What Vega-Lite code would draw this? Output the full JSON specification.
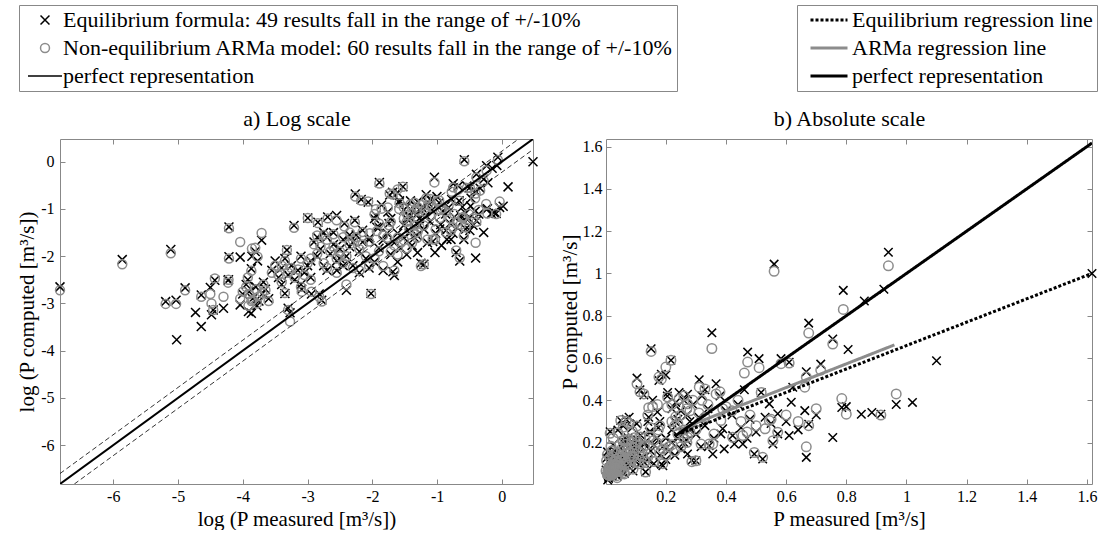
{
  "$schema": "https://vega.github.io/schema/vega-lite/v6.json",
  "autosize": {"type": "pad"},
  "padding": {"left": 16, "top": 4, "right": 2, "bottom": 0},
  "config": {
    "font": "Liberation Serif",
    "view": {"stroke": "#888", "strokeWidth": 1},
    "axis": {"grid": false, "domain": false, "tickColor": "#888", "labelColor": "#000", "titleColor": "#000", "labelFontSize": 16, "titleFontSize": 21, "titleFontWeight": "normal", "tickSize": -5, "labelPadding": 12, "labelFont": "Liberation Serif", "titleFont": "Liberation Serif"},
    "legend": {"labelFont": "Liberation Serif", "labelFontSize": 22, "labelColor": "#000", "offset": 0}
  },
  "datasets": {
    "pts": [
      {"m":0.00109,"e":0.0707,"a":0.0659},{"m":0.00285,"e":0.126,"a":0.114},{"m":0.00603,"e":0.156,"a":0.144},
      {"m":0.00557,"e":0.0518,"a":0.0493},{"m":0.00654,"e":0.0534,"a":0.0493},{"m":0.0066,"e":0.0231,"a":null},
      {"m":0.00752,"e":0.0693,"a":0.0659},{"m":0.00883,"e":0.0412,"a":null},{"m":0.00965,"e":0.0305,"a":null},
      {"m":0.00965,"e":0.0596,"a":0.0573},{"m":0.0119,"e":0.0813,"a":0.0846},{"m":0.0113,"e":0.0392,"a":0.0498},
      {"m":0.0116,"e":0.0433,"a":0.0433},{"m":0.0111,"e":0.0699,"a":0.0608},{"m":0.0147,"e":0.0821,"a":0.0821},
      {"m":0.0148,"e":0.2516,"a":0.2441},{"m":0.0148,"e":0.134,"a":0.1287},{"m":0.0136,"e":0.045,"a":0.0573},
      {"m":0.0176,"e":0.1327,"a":0.1827},{"m":0.0245,"e":0.19,"a":0.221},{"m":0.0222,"e":0.1496,"a":0.162},
      {"m":0.0211,"e":0.135,"a":0.159},{"m":0.023,"e":0.1225,"a":0.134},{"m":0.0209,"e":0.104,"a":0.0993},
      {"m":0.0146,"e":0.0813,"a":0.0773},{"m":0.0176,"e":0.0483,"a":0.055},{"m":0.0209,"e":0.0404,"a":0.0523},
      {"m":0.02,"e":0.042,"a":0.0474},{"m":0.0193,"e":0.0743,"a":0.0707},{"m":0.0202,"e":0.0639,"a":0.0608},
      {"m":0.0213,"e":0.055,"a":0.0539},{"m":0.0224,"e":0.0707,"a":0.0672},{"m":0.0235,"e":0.0523,"a":0.0578},
      {"m":0.0247,"e":0.0608,"a":0.062},{"m":0.026,"e":0.0672,"a":0.0659},{"m":0.0273,"e":0.055,"a":0.0523},
      {"m":0.0228,"e":0.0474,"a":0.0498},{"m":0.0252,"e":0.0781,"a":0.0743},{"m":0.0183,"e":0.0608,"a":0.0639},
      {"m":0.0198,"e":0.0821,"a":0.0863},{"m":0.0362,"e":0.154,"a":0.154},{"m":0.0404,"e":0.259,"a":0.2466},
      {"m":0.0351,"e":0.0614,"a":0.062},{"m":0.0369,"e":0.045,"a":0.0433},{"m":0.038,"e":0.0408,"a":0.034},
      {"m":0.0287,"e":0.1003,"a":0.0954},{"m":0.0302,"e":0.1225,"a":0.1108},{"m":0.0318,"e":0.0863,"a":0.0907},
      {"m":0.0334,"e":0.1054,"a":0.1108},{"m":0.0351,"e":0.1287,"a":0.1225},{"m":0.0369,"e":0.0907,"a":0.0954},
      {"m":0.0388,"e":0.1108,"a":0.1054},{"m":0.0408,"e":0.0821,"a":0.0863},{"m":0.0429,"e":0.1003,"a":0.1023},
      {"m":0.045,"e":0.1353,"a":0.1287},{"m":0.0474,"e":0.0954,"a":0.0907},{"m":0.0498,"e":0.1108,"a":0.1165},
      {"m":0.0523,"e":0.0863,"a":0.0821},{"m":0.0334,"e":0.0743,"a":0.0781},{"m":0.045,"e":0.0743,"a":0.0707},
      {"m":0.0584,"e":0.278,"a":0.2725},{"m":0.0679,"e":0.31,"a":0.3012},{"m":0.088,"e":0.27,"a":0.254},
      {"m":0.104,"e":0.505,"a":0.478},{"m":0.114,"e":0.45,"a":0.44},{"m":0.1033,"e":0.289,"a":0.278},
      {"m":0.0907,"e":0.0659,"a":0.0743},{"m":0.062,"e":0.0534,"a":0.0518},{"m":0.0455,"e":0.0672,"a":0.0639},
      {"m":0.0529,"e":0.0608,"a":0.0639},{"m":0.0596,"e":0.0608,"a":0.0573},{"m":0.055,"e":0.1827,"a":0.1738},
      {"m":0.0578,"e":0.1353,"a":0.1423},{"m":0.0608,"e":0.1572,"a":0.1653},{"m":0.0639,"e":0.1108,"a":0.1165},
      {"m":0.0672,"e":0.2019,"a":0.192},{"m":0.0707,"e":0.1423,"a":0.1496},{"m":0.0743,"e":0.1738,"a":0.1653},
      {"m":0.0781,"e":0.1225,"a":0.1287},{"m":0.0821,"e":0.1572,"a":0.1496},{"m":0.0863,"e":0.192,"a":0.2019},
      {"m":0.0907,"e":0.1353,"a":0.1353},{"m":0.0954,"e":0.1653,"a":0.1738},{"m":0.1003,"e":0.1108,"a":0.1054},
      {"m":0.1054,"e":0.2122,"a":0.2019},{"m":0.1108,"e":0.1496,"a":0.1572},{"m":0.1165,"e":0.1827,"a":0.1738},
      {"m":0.1225,"e":0.1287,"a":0.1353},{"m":0.0781,"e":0.1003,"a":0.0954},{"m":0.0639,"e":0.2231,"a":0.2122},
      {"m":0.0954,"e":0.2122,"a":0.2231},{"m":0.1287,"e":0.1054,"a":0.1108},{"m":0.151,"e":0.644,"a":0.631},
      {"m":0.2865,"e":0.1165,"a":0.1097},{"m":0.186,"e":0.0973,"a":null},{"m":0.1327,"e":0.0614,"a":0.0608},
      {"m":0.0578,"e":0.2019,"a":0.21},{"m":0.0672,"e":0.1003,"a":0.106},{"m":0.0743,"e":0.2231,"a":0.215},
      {"m":0.0863,"e":0.1108,"a":0.117},{"m":0.1003,"e":0.1827,"a":0.19},{"m":0.1108,"e":0.0954,"a":0.1},
      {"m":0.1287,"e":0.192,"a":0.185},{"m":0.0821,"e":0.1287,"a":0.135},{"m":0.1165,"e":0.2346,"a":0.226},
      {"m":0.0523,"e":0.1225,"a":0.129},
      {"m":0.14,"e":0.12,"a":0.13},{"m":0.15,"e":0.16,"a":0.15},{"m":0.16,"e":0.1,"a":0.11},
      {"m":0.17,"e":0.22,"a":0.2},{"m":0.18,"e":0.14,"a":0.15},{"m":0.19,"e":0.18,"a":0.17},
      {"m":0.2,"e":0.12,"a":0.14},{"m":0.21,"e":0.16,"a":0.18},{"m":0.22,"e":0.2,"a":0.19},
      {"m":0.23,"e":0.14,"a":0.16},{"m":0.24,"e":0.22,"a":0.24},{"m":0.25,"e":0.17,"a":0.18},
      {"m":0.26,"e":0.25,"a":0.26},{"m":0.27,"e":0.21,"a":0.2},{"m":0.28,"e":0.26,"a":0.25},
      {"m":0.13,"e":0.2,"a":0.22},{"m":0.145,"e":0.25,"a":0.23},{"m":0.175,"e":0.27,"a":0.26},
      {"m":0.19,"e":0.09,"a":0.1},{"m":0.23,"e":0.3,"a":0.28},
      {"m":0.22,"e":0.36,"a":0.38},{"m":0.26,"e":0.4,"a":0.42},{"m":0.29,"e":0.38,"a":0.4},
      {"m":0.32,"e":0.42,"a":0.4},{"m":0.34,"e":0.36,"a":0.38},{"m":0.38,"e":0.42,"a":0.44},
      {"m":0.27,"e":0.33,"a":0.36},{"m":0.31,"e":0.32,"a":0.34},
      {"m":0.45,"e":0.27,"a":0.3},{"m":0.48,"e":0.31,"a":0.33},{"m":0.5,"e":0.25,"a":0.28},
      {"m":0.55,"e":0.29,"a":0.31},{"m":0.6,"e":0.3,"a":0.33},{"m":0.64,"e":0.26,"a":0.3},
      {"m":0.7,"e":0.33,"a":0.36},{"m":0.47,"e":0.22,"a":0.25},
      {"m":0.353,"e":0.719,"a":0.645},{"m":0.56,"e":1.044,"a":1.01},{"m":1.617,"e":1.0,"a":null},
      {"m":1.1,"e":0.587,"a":null},{"m":0.94,"e":1.1,"a":1.036},{"m":0.79,"e":0.92,"a":0.83},
      {"m":0.86,"e":0.87,"a":null},{"m":0.925,"e":0.925,"a":null},{"m":0.915,"e":0.334,"a":0.33},
      {"m":0.675,"e":0.765,"a":0.718},{"m":0.755,"e":0.69,"a":0.666},{"m":0.806,"e":0.64,"a":null},
      {"m":0.785,"e":0.366,"a":0.408},{"m":0.8,"e":0.37,"a":0.334},{"m":0.966,"e":0.38,"a":0.43},
      {"m":1.02,"e":0.39,"a":null},{"m":0.85,"e":0.334,"a":null},{"m":0.885,"e":0.342,"a":null},
      {"m":0.755,"e":0.224,"a":null},{"m":0.675,"e":0.287,"a":0.28},{"m":0.667,"e":0.13,"a":0.18},
      {"m":0.667,"e":0.535,"a":0.51},{"m":0.662,"e":0.351,"a":0.462},{"m":0.622,"e":0.462,"a":null},
      {"m":0.61,"e":0.233,"a":null},{"m":0.617,"e":0.391,"a":null},{"m":0.583,"e":0.597,"a":0.573},
      {"m":0.61,"e":0.58,"a":0.576},{"m":0.472,"e":0.628,"a":0.581},{"m":0.51,"e":0.597,"a":0.554},
      {"m":0.461,"e":0.45,"a":0.529},{"m":0.715,"e":0.571,"a":0.543},{"m":0.517,"e":0.437,"a":0.437},
      {"m":0.389,"e":0.265,"a":0.36},{"m":0.383,"e":0.241,"a":0.304},{"m":0.422,"e":0.233,"a":0.225},
      {"m":0.428,"e":0.193,"a":null},{"m":0.456,"e":0.193,"a":0.233},{"m":0.394,"e":0.17,"a":null},
      {"m":0.572,"e":0.241,"a":0.249},{"m":0.556,"e":0.193,"a":0.209},{"m":0.494,"e":0.146,"a":0.153},
      {"m":0.522,"e":0.122,"a":0.13},{"m":0.53,"e":0.32,"a":0.265},{"m":0.544,"e":0.383,"a":0.304},
      {"m":0.572,"e":0.336,"a":null},{"m":0.367,"e":0.478,"a":0.43},{"m":0.311,"e":0.497,"a":0.462},
      {"m":0.33,"e":0.45,"a":0.454},{"m":0.206,"e":0.437,"a":0.415},{"m":0.244,"e":0.437,"a":0.407},
      {"m":0.272,"e":0.429,"a":0.383},{"m":0.217,"e":0.589,"a":0.589},{"m":0.2,"e":0.52,"a":0.557},
      {"m":0.177,"e":0.494,"a":0.51},{"m":0.185,"e":0.523,"a":0.5},{"m":0.3,"e":0.114,"a":0.114},
      {"m":0.272,"e":0.146,"a":0.225},{"m":0.344,"e":0.185,"a":0.193},{"m":0.356,"e":0.146,"a":0.193},
      {"m":0.317,"e":0.18,"a":0.193},{"m":0.127,"e":0.425,"a":0.43},{"m":0.156,"e":0.4,"a":0.37},
      {"m":0.143,"e":0.32,"a":0.365},{"m":0.172,"e":0.345,"a":0.38},{"m":0.205,"e":0.42,"a":0.367},
      {"m":0.233,"e":0.39,"a":0.322},{"m":0.05,"e":0.304,"a":0.304},{"m":0.078,"e":0.32,"a":0.29},
      {"m":0.15,"e":0.25,"a":0.27},{"m":0.18,"e":0.3,"a":0.28},{"m":0.22,"e":0.26,"a":0.3},
      {"m":0.25,"e":0.35,"a":0.33},{"m":0.28,"e":0.3,"a":0.35},{"m":0.3,"e":0.24,"a":0.26},
      {"m":0.33,"e":0.28,"a":0.32},{"m":0.26,"e":0.2,"a":0.22},{"m":0.2,"e":0.22,"a":0.2},
      {"m":0.16,"e":0.19,"a":0.21},{"m":0.14,"e":0.3,"a":0.33},{"m":0.24,"e":0.31,"a":0.29},
      {"m":0.36,"e":0.22,"a":0.24},{"m":0.4,"e":0.35,"a":0.37},{"m":0.44,"e":0.38,"a":0.4},
      {"m":0.42,"e":0.33,"a":0.35}
    ],
    "refL": [
      {"m":0.00109,"c":0.00109,"k":"p"},{"m":1.617,"c":1.617,"k":"p"},
      {"m":0.00109,"c":0.00136,"k":"u"},{"m":1.294,"c":1.617,"k":"u"},
      {"m":0.00136,"c":0.00109,"k":"l"},{"m":1.617,"c":1.294,"k":"l"}
    ],
    "refR": [
      {"m":0.25,"c":0.244,"k":"d"},{"m":1.617,"c":1.0,"k":"d"},
      {"m":0.25,"c":0.264,"k":"g"},{"m":0.96,"c":0.662,"k":"g"},
      {"m":0.23,"c":0.23,"k":"p"},{"m":1.617,"c":1.617,"k":"p"}
    ]
  },
  "hconcat": [
    {
      "width": 473,
      "height": 345,
      "resolve": {"axis": {"x": "independent", "y": "independent"}},
      "layer": [
        {
          "data": {"name": "pts"},
          "transform": [{"fold": ["e", "a"], "as": ["key", "val"]}],
          "mark": {"type": "point", "filled": false, "opacity": 1, "strokeWidth": 1.5, "size": 80},
          "encoding": {
            "x": {"field": "m", "type": "quantitative", "scale": {"type": "log", "domain": [0.00109, 1.617], "nice": false},
                  "axis": {"orient": "bottom", "values": [0.00247875, 0.00673795, 0.0183156, 0.0497871, 0.135335, 0.367879, 1], "labelExpr": "'' + round(log(datum.value))", "labelPadding": 9, "title": "log (P measured [m³/s])", "titlePadding": 4}},
            "y": {"field": "val", "type": "quantitative", "scale": {"type": "log", "domain": [0.00109, 1.617], "nice": false},
                  "axis": {"orient": "left", "values": [0.00247875, 0.00673795, 0.0183156, 0.0497871, 0.135335, 0.367879, 1], "labelExpr": "'' + round(log(datum.value))", "labelPadding": 11, "title": "log (P computed [m³/s])", "titlePadding": 3}},
            "color": {"field": "key", "type": "nominal", "scale": {"domain": ["e", "a", "p"], "range": ["#000000", "#8c8c8c", "#000000"]},
                      "legend": {"orient": "none", "legendX": -41, "legendY": -134, "title": null, "strokeColor": "#888", "fillColor": "#fff", "padding": 4, "symbolSize": 80, "symbolStrokeWidth": 1.5, "symbolOffset": 11, "labelOffset": 7, "rowPadding": 6, "labelLimit": 700,
                                 "labelExpr": "datum.value == 'e' ? 'Equilibrium formula: 49 results fall in the range of +/-10%' : datum.value == 'a' ? 'Non-equilibrium ARMa model: 60 results fall in the range of +/-10%' : 'perfect representation'"}},
            "shape": {"field": "key", "type": "nominal", "scale": {"domain": ["e", "a", "p"], "range": ["M-1,-1L1,1M1,-1L-1,1", "circle", "M-3.8,0H3.8"]},
                      "legend": {"orient": "none", "legendX": -41, "legendY": -134, "title": null, "strokeColor": "#888", "fillColor": "#fff", "padding": 4, "symbolSize": 80, "symbolStrokeWidth": 1.5, "symbolOffset": 11, "labelOffset": 7, "rowPadding": 6, "labelLimit": 700,
                                 "labelExpr": "datum.value == 'e' ? 'Equilibrium formula: 49 results fall in the range of +/-10%' : datum.value == 'a' ? 'Non-equilibrium ARMa model: 60 results fall in the range of +/-10%' : 'perfect representation'"}},
            "order": {"field": "key", "sort": "descending"}
          }
        },
        {
          "data": {"name": "refL"},
          "transform": [{"filter": "datum.k != 'p'"}],
          "mark": {"type": "line", "strokeWidth": 0.8, "strokeDash": [5, 3], "color": "#000", "clip": true},
          "encoding": {
            "x": {"field": "m", "type": "quantitative", "axis": {"orient": "top", "values": [0.00247875, 0.00673795, 0.0183156, 0.0497871, 0.135335, 0.367879, 1], "labels": false, "title": "a) Log scale", "titleFontSize": 22, "titlePadding": 8}},
            "y": {"field": "c", "type": "quantitative", "axis": {"orient": "right", "values": [0.00247875, 0.00673795, 0.0183156, 0.0497871, 0.135335, 0.367879, 1], "labels": false, "title": null}},
            "detail": {"field": "k"}
          }
        },
        {
          "data": {"name": "refL"},
          "transform": [{"filter": "datum.k == 'p'"}],
          "mark": {"type": "line", "strokeWidth": 2, "clip": true},
          "encoding": {
            "x": {"field": "m", "type": "quantitative", "axis": null},
            "y": {"field": "c", "type": "quantitative", "axis": null},
            "color": {"field": "k", "type": "nominal"}
          }
        }
      ]
    },
    {
      "width": 486,
      "height": 345,
      "resolve": {"axis": {"x": "independent", "y": "independent"}},
      "layer": [
        {
          "data": {"name": "pts"},
          "mark": {"type": "point", "filled": false, "opacity": 1, "strokeWidth": 1.5, "size": 72, "shape": "M-1,-1L1,1M1,-1L-1,1", "color": "#000"},
          "encoding": {
            "x": {"field": "m", "type": "quantitative", "scale": {"domain": [0.001, 1.617], "nice": false, "zero": false},
                  "axis": {"orient": "bottom", "values": [0.2, 0.4, 0.6, 0.8, 1, 1.2, 1.4, 1.6], "format": "~g", "labelPadding": 9, "title": "P measured [m³/s]", "titlePadding": 4}},
            "y": {"field": "e", "type": "quantitative", "scale": {"domain": [0.004, 1.636], "nice": false, "zero": false},
                  "axis": {"orient": "left", "values": [0.2, 0.4, 0.6, 0.8, 1, 1.2, 1.4, 1.6], "format": "~g", "labelPadding": 9, "title": "P computed [m³/s]", "titlePadding": 2}}
          }
        },
        {
          "data": {"name": "pts"},
          "mark": {"type": "point", "filled": false, "opacity": 1, "strokeWidth": 1.5, "size": 90, "shape": "circle", "color": "#8c8c8c"},
          "encoding": {
            "x": {"field": "m", "type": "quantitative", "axis": {"orient": "top", "values": [0.2, 0.4, 0.6, 0.8, 1, 1.2, 1.4, 1.6], "labels": false, "title": "b) Absolute scale", "titleFontSize": 22, "titlePadding": 8}},
            "y": {"field": "a", "type": "quantitative", "axis": {"orient": "right", "values": [0.2, 0.4, 0.6, 0.8, 1, 1.2, 1.4, 1.6], "labels": false, "title": null}}
          }
        },
        {
          "data": {"name": "refR"},
          "mark": {"type": "line", "strokeWidth": 3, "clip": true},
          "encoding": {
            "x": {"field": "m", "type": "quantitative", "axis": null},
            "y": {"field": "c", "type": "quantitative", "axis": null},
            "color": {"field": "k", "type": "nominal", "scale": {"domain": ["d", "g", "p"], "range": ["#000000", "#8c8c8c", "#000000"]},
                      "legend": {"orient": "none", "legendX": 191, "legendY": -134, "title": null, "strokeColor": "#888", "fillColor": "#fff", "padding": 4, "symbolType": "M-3.7,0H3.7", "symbolSize": 100, "symbolStrokeWidth": 3, "symbolOffset": 17, "labelOffset": 12, "rowPadding": 6, "labelLimit": 400, "labelFontSize": 22,
                                 "labelExpr": "datum.value == 'd' ? 'Equilibrium regression line' : datum.value == 'g' ? 'ARMa regression line' : 'perfect representation'"}},
            "strokeDash": {"field": "k", "type": "nominal", "scale": {"domain": ["d", "g", "p"], "range": [[3, 2], [1, 0], [1, 0]]},
                      "legend": {"orient": "none", "legendX": 191, "legendY": -134, "title": null, "strokeColor": "#888", "fillColor": "#fff", "padding": 4, "symbolType": "M-3.7,0H3.7", "symbolSize": 100, "symbolStrokeWidth": 3, "symbolOffset": 17, "labelOffset": 12, "rowPadding": 6, "labelLimit": 400, "labelFontSize": 22,
                                 "labelExpr": "datum.value == 'd' ? 'Equilibrium regression line' : datum.value == 'g' ? 'ARMa regression line' : 'perfect representation'"}}
          }
        }
      ]
    }
  ],
  "spacing": 73,
  "bounds": "flush",
  "resolve": {"scale": {"x": "independent", "y": "independent", "color": "independent", "shape": "independent", "strokeDash": "independent"}, "legend": {"color": "independent", "shape": "independent", "strokeDash": "independent"}}
}
